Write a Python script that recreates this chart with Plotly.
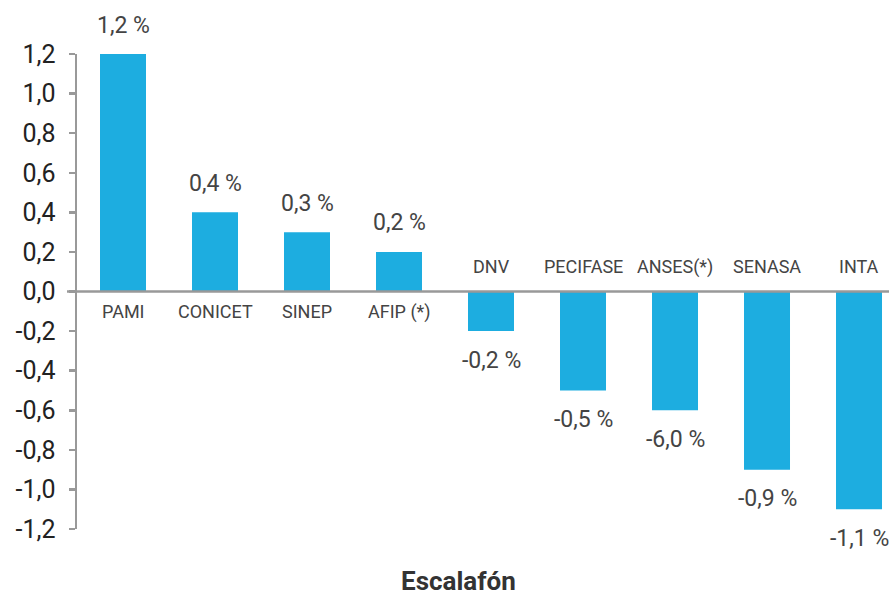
import plotly.graph_objects as go

categories = ["PAMI", "CONICET", "SINEP", "AFIP (*)", "DNV", "PECIFASE", "ANSES(*)", "SENASA", "INTA"]
values = [1.2, 0.4, 0.3, 0.2, -0.2, -0.5, -0.6, -0.9, -1.1]
value_labels = ["1,2 %", "0,4 %", "0,3 %", "0,2 %", "-0,2 %", "-0,5 %", "-6,0 %", "-0,9 %", "-1,1 %"]
tick_vals = [-1.2, -1.0, -0.8, -0.6, -0.4, -0.2, 0.0, 0.2, 0.4, 0.6, 0.8, 1.0, 1.2]
tick_text = ["-1,2", "-1,0", "-0,8", "-0,6", "-0,4", "-0,2", "0,0", "0,2", "0,4", "0,6", "0,8", "1,0", "1,2"]
x_title = "Escalafón"

FONT = "Roboto"
BAR = "#1DADE0"
AXIS = "#999999"

fig = go.Figure(go.Bar(
    x=list(range(len(categories))), y=values,
    marker=dict(color=BAR, line=dict(width=0)),
    hoverinfo="skip",
))

annotations = []
for i, (c, v, t) in enumerate(zip(categories, values, value_labels)):
    pos = v >= 0
    annotations.append(dict(
        x=i, y=v, xref="x", yref="y", text=t, showarrow=False,
        yanchor="middle", yshift=29 if pos else -29,
        font=dict(family=FONT, size=23, color="#444444"),
    ))
    annotations.append(dict(
        x=i, y=0, xref="x", yref="y", text=c, showarrow=False,
        yanchor="middle", yshift=-20 if pos else 25,
        font=dict(family=FONT, size=18, color="#444444"),
    ))
annotations.append(dict(
    x=0.470, y=-0.1095, xref="paper", yref="paper", text="<b>" + x_title + "</b>",
    showarrow=False, yanchor="middle",
    font=dict(family=FONT, size=26, color="#333333"),
))

fig.update_layout(
    width=889, height=596,
    margin=dict(l=77, r=0, t=54, b=67),
    paper_bgcolor="white", plot_bgcolor="white",
    bargap=0.5, showlegend=False,
    annotations=annotations,
    shapes=[dict(type="line", xref="paper", yref="y", x0=-0.0123, x1=1, y0=0, y1=0,
                 line=dict(color=AXIS, width=2.5), layer="above")],
    xaxis=dict(range=[-0.5, 8.326], showticklabels=False, showgrid=False,
               zeroline=False, showline=False, ticks="", fixedrange=True),
    yaxis=dict(range=[-1.2, 1.2], tickvals=tick_vals, ticktext=tick_text,
               showgrid=False, zeroline=False, showline=True, linecolor=AXIS, linewidth=2.5,
               ticks="outside", ticklen=6, tickwidth=2.5, tickcolor=AXIS,
               ticklabelstandoff=8, fixedrange=True,
               tickfont=dict(family=FONT, size=25, color="#222222")),
)

fig.write_html(
    "out.html",
    config={"displayModeBar": False, "staticPlot": True},
    post_script="document.body.style.margin='0';document.body.style.overflow='hidden';",
)
